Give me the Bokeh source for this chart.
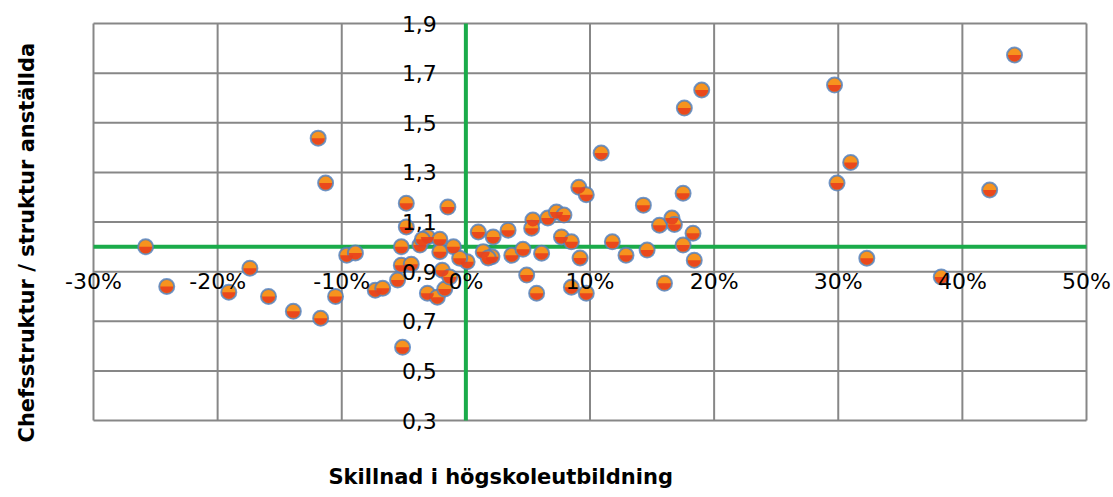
import math
from bokeh.plotting import figure
from bokeh.models import Range1d, FixedTicker, Title
from bokeh.embed import file_html
from bokeh.resources import INLINE

# Difference in higher education (share, -0.30..0.50)
x_share = [-0.258, -0.241, -0.191, -0.174, -0.159, -0.139, -0.117, -0.105, -0.119, -0.113,
           -0.096, -0.089, -0.073, -0.067, -0.051, -0.048, -0.0145, -0.048, -0.052, -0.031,
           -0.021, -0.010, -0.037, 0.010, -0.021, 0.001, 0.014, 0.021, 0.022, 0.034,
           0.037, -0.052, -0.044, -0.019, -0.031, -0.023, -0.017, -0.055, -0.005, -0.013,
           0.046, 0.061, 0.054, 0.053, 0.066, 0.073, 0.079, 0.077, 0.085, 0.092,
           0.049, 0.057, 0.085, 0.097, 0.091, 0.097, 0.118, 0.129, 0.143, 0.146,
           0.156, 0.166, 0.168, 0.175, 0.160, 0.175, 0.183, 0.184, 0.176, 0.190,
           0.297, 0.299, 0.310, 0.442, 0.422, 0.323, 0.383, 0.109, -0.035, 0.018]
# Manager structure / employee structure ratio
y_ratio = [1.000, 0.840, 0.817, 0.914, 0.800, 0.740, 0.712, 0.800, 1.438, 1.257,
           0.966, 0.975, 0.825, 0.833, 0.595, 1.176, 1.160, 1.080, 1.000, 1.040,
           1.030, 1.000, 1.007, 1.060, 0.980, 0.940, 0.980, 0.960, 1.040, 1.067,
           0.966, 0.926, 0.930, 0.906, 0.813, 0.797, 0.830, 0.866, 0.954, 0.878,
           0.990, 0.974, 1.108, 1.075, 1.116, 1.140, 1.128, 1.040, 1.020, 0.955,
           0.886, 0.813, 0.837, 0.813, 1.240, 1.210, 1.020, 0.966, 1.168, 0.987,
           1.087, 1.116, 1.090, 1.216, 0.853, 1.007, 1.055, 0.946, 1.559, 1.632,
           1.652, 1.257, 1.340, 1.773, 1.229, 0.954, 0.878, 1.378, 1.030, 0.955]

x_ticks = [-0.3, -0.2, -0.1, 0.0, 0.1, 0.2, 0.3, 0.4, 0.5]
x_tick_labels = ["-30%", "-20%", "-10%", "0%", "10%", "20%", "30%", "40%", "50%"]
y_ticks = [0.3, 0.5, 0.7, 0.9, 1.1, 1.3, 1.5, 1.7, 1.9]
y_tick_labels = ["0,3", "0,5", "0,7", "0,9", "1,1", "1,3", "1,5", "1,7", "1,9"]
x_cross = 0.0   # vertical axis position
y_cross = 1.0   # horizontal axis position

x_title = "Skillnad i högskoleutbildning"
y_title = "Chefsstruktur / struktur anställda"

GRID = "#878787"
GREEN = "#1aab4a"
FONT = "DejaVu Sans"

# ---- layout (pixels) ----
W, H = 1113, 497
FL, FR, FT, FB = 43, 1113, 0, 457          # frame edges
GX0, GX1, GY0, GY1 = 93, 1086, 23, 420     # plot-box edges
xmin, xmax = x_ticks[0], x_ticks[-1]
ymin, ymax = y_ticks[0], y_ticks[-1]
xs = (xmax - xmin) / (GX1 - GX0)
ys = (ymax - ymin) / (GY1 - GY0)
x_range = Range1d(xmin - (GX0 - FL) * xs, xmax + (FR - GX1) * xs)
y_range = Range1d(ymin - (FB - GY1) * ys, ymax + (GY0 - FT) * ys)

p = figure(width=W, height=H, x_range=x_range, y_range=y_range,
           output_backend="svg", toolbar_location=None,
           min_border_left=FL, min_border_right=W - FR, min_border_top=FT, min_border_bottom=H - FB,
           background_fill_color="white", border_fill_color="white")
p.outline_line_color = None
p.grid.visible = False

# plot-box grid lines built from the tick arrays
p.segment(x0=x_ticks, y0=[ymin] * len(x_ticks), x1=x_ticks, y1=[ymax] * len(x_ticks),
          line_color=GRID, line_width=2, level="underlay")
p.segment(x0=[xmin] * len(y_ticks), y0=y_ticks, x1=[xmax] * len(y_ticks), y1=y_ticks,
          line_color=GRID, line_width=2, level="underlay")
# green crossing axis lines
p.segment(x0=[xmin, x_cross], y0=[y_cross, ymin], x1=[xmax, x_cross], y1=[y_cross, ymax],
          line_color=GREEN, line_width=4, level="underlay")

xa = p.xaxis[0]
ya = p.yaxis[0]
xa.fixed_location = y_cross
ya.fixed_location = x_cross
xa.ticker = FixedTicker(ticks=x_ticks)
ya.ticker = FixedTicker(ticks=y_ticks)
xa.major_label_overrides = dict(zip(x_ticks, x_tick_labels))
ya.major_label_overrides = dict(zip(y_ticks, y_tick_labels))
for ax in (xa, ya):
    ax.axis_line_color = None
    ax.major_tick_line_color = None
    ax.minor_tick_line_color = None
    ax.major_tick_out = 0
    ax.major_tick_in = 0
    ax.major_label_text_font = FONT
    ax.major_label_text_font_size = "22px"
    ax.major_label_text_color = "black"
xa.major_label_standoff = 22
ya.major_label_standoff = 29

p.add_layout(Title(text=y_title, align="left", offset=15, text_font=FONT,
                   text_font_size="21px", text_font_style="bold", text_color="black"), "left")
p.add_layout(Title(text=x_title, align="left", offset=285, text_font=FONT,
                   text_font_size="21px", text_font_style="bold", text_color="black"), "below")

p.scatter(x_share, y_ratio, size=15, marker="circle", fill_color="#f7931e",
          line_color="#4f7fc1", line_width=2, line_alpha=0.8)
p.wedge(x_share, y_ratio, radius=6.5, radius_units="screen", start_angle=math.pi,
        end_angle=2 * math.pi, fill_color="#e8401c", fill_alpha=0.9, line_color=None)

open("out.html", "w").write(file_html(p, INLINE))
